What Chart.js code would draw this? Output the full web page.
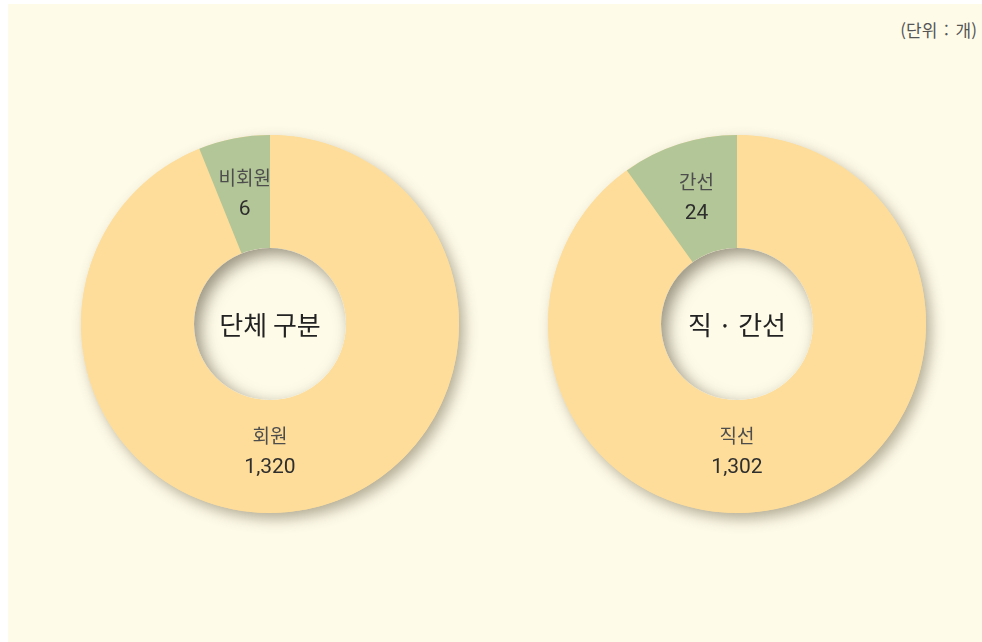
<!DOCTYPE html>
<html lang="ko">
<head>
<meta charset="utf-8">
<script src="https://cdn.jsdelivr.net/npm/chart.js@4.4.1/dist/chart.umd.min.js"></script>
<style>
  html, body { margin: 0; padding: 0; background: #ffffff; }
  body { width: 982px; height: 642px; position: relative; overflow: hidden; }
  #panel { position: absolute; left: 8px; top: 4px; width: 974px; height: 638px; background: #fefbe9; }
  #unit { position: absolute; right: 5px; top: 17px; font: 17px "Noto Sans CJK KR", "Noto Sans", sans-serif; color: #555; word-spacing: 2px; }
  canvas { position: absolute; }
</style>
</head>
<body>
<div id="panel"></div>
<div id="unit">(단위 : 개)</div>
<canvas id="leftChart" width="440" height="440" style="left:50px; top:104px;"></canvas>
<canvas id="rightChart" width="440" height="440" style="left:517px; top:104px;"></canvas>
<script>
// 단체 구분
const groupLabels = ['회원', '비회원'];
const groupCounts = ['1,320', '6'];
const groupSliceShare = [93.9, 6.1];   // 그림에서 읽은 조각 비율(%)

// 직 · 간선
const electLabels = ['직선', '간선'];
const electCounts = ['1,302', '24'];
const electSliceShare = [90.1, 9.9];

const sliceColors = ['#fedd9a', '#b3c697'];
const panelColor = '#fefbe9';

// 고리 그림자 + 구멍 안쪽 그림자 + 글자
const ringDeco = {
    id: 'ringDeco',
    beforeDatasetsDraw(chart) {
        const arc = chart.getDatasetMeta(0).data[0];
        const { x, y, outerRadius, innerRadius } = arc.getProps(['x', 'y', 'outerRadius', 'innerRadius'], true);
        const ctx = chart.ctx;
        ctx.save();
        ctx.shadowColor = 'rgba(90, 80, 50, 0.45)';
        ctx.shadowBlur = 14;
        ctx.shadowOffsetX = 5;
        ctx.shadowOffsetY = 6;
        ctx.beginPath();
        ctx.arc(x, y, outerRadius, 0, Math.PI * 2);
        ctx.arc(x, y, innerRadius, 0, Math.PI * 2, true);
        ctx.fillStyle = sliceColors[0];
        ctx.fill();
        ctx.restore();
    },
    afterDatasetsDraw(chart, args, opts) {
        const meta = chart.getDatasetMeta(0);
        const first = meta.data[0].getProps(['x', 'y', 'outerRadius', 'innerRadius'], true);
        const { x, y, outerRadius, innerRadius } = first;
        const ctx = chart.ctx;

        // 구멍 안쪽 그림자
        ctx.save();
        ctx.beginPath();
        ctx.arc(x, y, innerRadius, 0, Math.PI * 2);
        ctx.clip();
        ctx.fillStyle = panelColor;
        ctx.fillRect(x - innerRadius, y - innerRadius, innerRadius * 2, innerRadius * 2);
        ctx.shadowColor = 'rgba(70, 60, 40, 0.55)';
        ctx.shadowBlur = 16;
        ctx.shadowOffsetX = 6;
        ctx.shadowOffsetY = 6;
        ctx.beginPath();
        ctx.rect(x - 300, y - 300, 600, 600);
        ctx.arc(x, y, innerRadius, 0, Math.PI * 2, true);
        ctx.fillStyle = panelColor;
        ctx.fill();
        ctx.restore();

        // 가운데 제목
        ctx.save();
        ctx.textAlign = 'center';
        ctx.textBaseline = 'middle';
        ctx.fillStyle = '#222';
        ctx.font = '400 26px "Noto Sans CJK KR", sans-serif';
        ctx.fillText(opts.title, x, y + 1);

        // 조각 글자
        const total = chart.data.datasets[0].data.reduce((a, b) => a + b, 0);
        meta.data.forEach((el, i) => {
            const p = el.getProps(['startAngle', 'endAngle'], true);
            const share = chart.data.datasets[0].data[i] / total;
            let ang = (p.startAngle + p.endAngle) / 2;
            let r = (outerRadius + innerRadius) / 2;
            if (share > 0.5) { ang = Math.PI / 2; r = r - 5; }
            const lx = x + Math.cos(ang) * r;
            const ly = y + Math.sin(ang) * r;
            ctx.fillStyle = '#4d4d4d';
            ctx.font = '19px "Noto Sans CJK KR", sans-serif';
            ctx.fillText(chart.data.labels[i], lx, ly - 16);
            ctx.fillStyle = '#2e2e2e';
            ctx.font = '21px "Roboto", "Noto Sans", sans-serif';
            ctx.fillText(opts.counts[i], lx, ly + 16);
        });
        ctx.restore();
    }
};

function makeDonut(id, labels, shares, counts, title) {
    new Chart(document.getElementById(id), {
        type: 'doughnut',
        data: {
            labels: labels,
            datasets: [{
                data: shares,
                backgroundColor: sliceColors,
                borderWidth: 0,
                hoverOffset: 0
            }]
        },
        options: {
            responsive: false,
            animation: false,
            cutout: '40.2%',
            layout: { padding: 31 },
            events: [],
            plugins: {
                legend: { display: false },
                tooltip: { enabled: false },
                ringDeco: { title: title, counts: counts }
            }
        },
        plugins: [ringDeco]
    });
}

makeDonut('leftChart', groupLabels, groupSliceShare, groupCounts, '단체 구분');
makeDonut('rightChart', electLabels, electSliceShare, electCounts, '직 · 간선');
</script>
</body>
</html>
